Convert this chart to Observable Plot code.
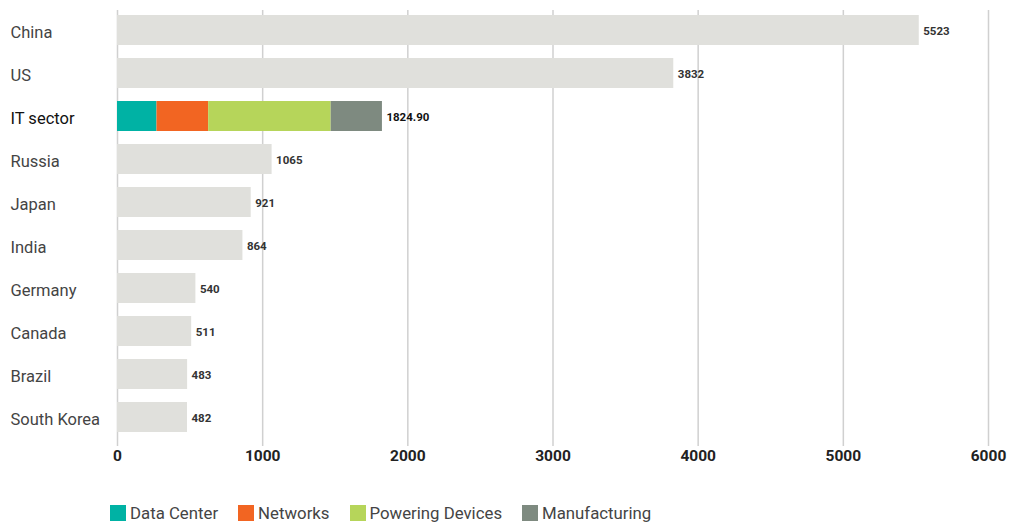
<!DOCTYPE html>
<html><head><meta charset="utf-8">
<script src="https://cdn.jsdelivr.net/npm/d3@7"></script>
<script src="https://cdn.jsdelivr.net/npm/@observablehq/plot@0.6"></script>
<style>
body{margin:0;background:#fff;font-family:"Roboto",sans-serif;}
#legend{display:flex;gap:20px;margin-left:110px;margin-top:33px;font-size:16.8px;color:#444;}
#legend span.sw{display:inline-block;width:16px;height:16px;margin-right:4px;vertical-align:-2px;}
</style></head><body>
<div id="chart"></div>
<div id="legend"></div>
<script>
const categories = ["China","US","IT sector","Russia","Japan","India","Germany","Canada","Brazil","South Korea"];
const values = [5523, 3832, 1824.90, 1065, 921, 864, 540, 511, 483, 482];
const valueLabels = ["5523","3832","1824.90","1065","921","864","540","511","483","482"];
const itSegments = ["Data Center","Networks","Powering Devices","Manufacturing"];
const itValues = [272, 356, 844, 353];
const segColors = ["#00b2a4","#f26522","#b6d55a","#7e8a80"];
const xTicks = [0,1000,2000,3000,4000,5000,6000];

const countryRows = categories.map((c,i)=>({cat:c, v:values[i], label:valueLabels[i]})).filter(d=>d.cat!=="IT sector");
let acc = 0;
const itRows = itSegments.map((s,i)=>{const r={cat:"IT sector",seg:s,x1:acc,x2:acc+itValues[i]}; acc+=itValues[i]; return r;});
const labelRows = categories.map((c,i)=>({cat:c, v:values[i], label:valueLabels[i]}));
const font = '"Roboto",sans-serif';

const chart = Plot.plot({
  width:1011, height:470,
  marginLeft:117, marginRight:23, marginTop:7, marginBottom:30,
  style:{fontFamily:font, background:"#fff"},
  x:{domain:[0,6000], ticks:xTicks},
  y:{domain:categories, paddingInner:0.3, paddingOuter:0.15, axis:null},
  color:{domain:itSegments, range:segColors},
  marks:[
    Plot.ruleX(xTicks,{x:d=>d, stroke:"#d0d0d0", strokeWidth:1.5, insetTop:3}),
    Plot.barX(countryRows,{y:"cat", x:"v", fill:"#e0e0dc"}),
    Plot.barX(itRows,{y:"cat", x1:"x1", x2:"x2", fill:"seg"}),
    Plot.text(labelRows,{y:"cat", x:"v", text:"label", textAnchor:"start", dx:4, dy:1, fontSize:11.5,
      fontWeight:"bold", fill:d=>d.cat==="IT sector"?"#111":"#333"}),
    Plot.text(labelRows,{y:"cat", text:"cat", frameAnchor:"left", textAnchor:"start", dx:-107, dy:2, fontSize:16.5,
      fontWeight:d=>d.cat==="IT sector"?"bold":"normal", fill:d=>d.cat==="IT sector"?"#111":"#444"}),
    Plot.axisX({ticks:xTicks, tickFormat:d=>String(d), tickSize:6, tickPadding:3, stroke:"#d0d0d0", strokeWidth:1.5, fontSize:15.5, fontWeight:"bold", fill:"#222", label:null})
  ]
});
document.getElementById("chart").appendChild(chart);
const lg = document.getElementById("legend");
itSegments.forEach((s,i)=>{
  const d=document.createElement("div");
  d.innerHTML=`<span class="sw" style="background:${segColors[i]}"></span>${s}`;
  lg.appendChild(d);
});
</script>
</body></html>
